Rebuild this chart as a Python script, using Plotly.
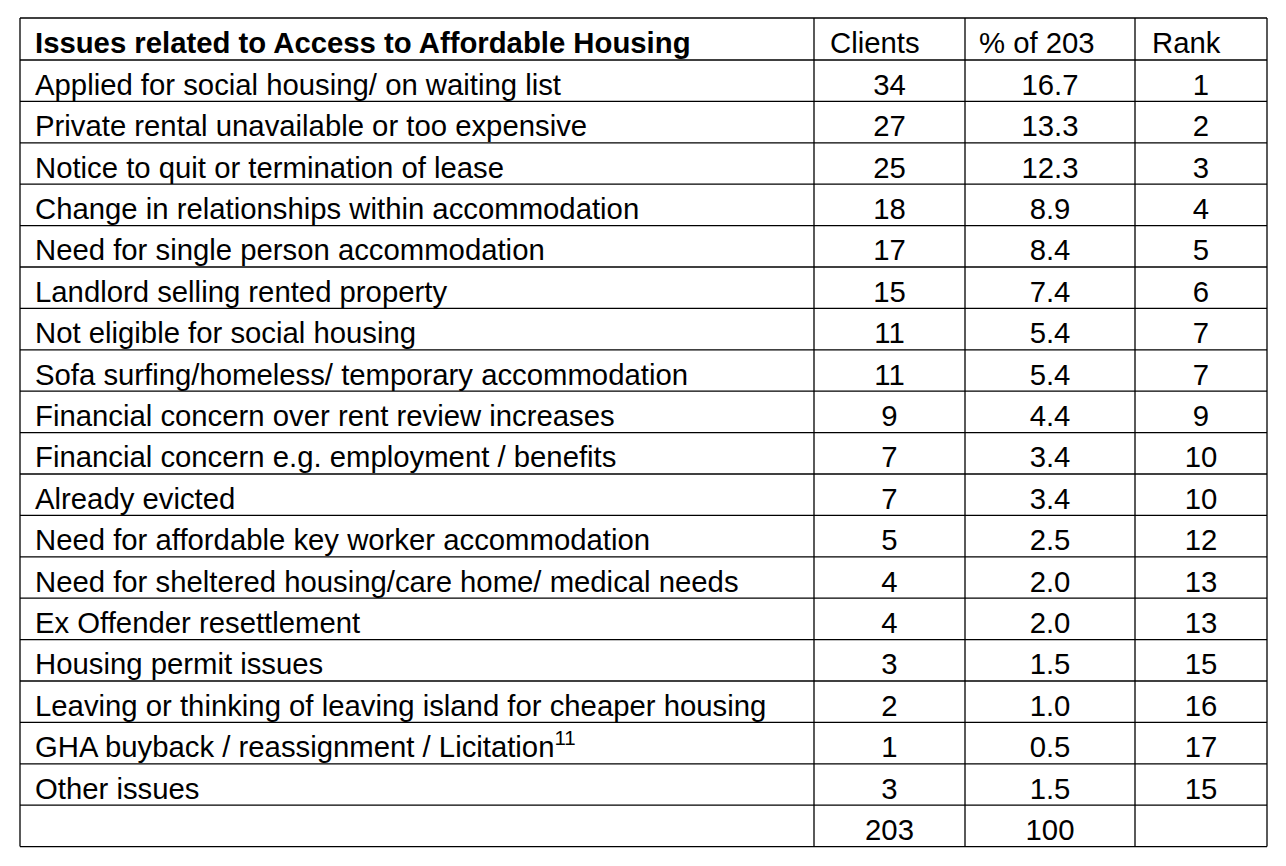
import plotly.graph_objects as go

# Table contents
issues = [
    "Applied for social housing/ on waiting list",
    "Private rental unavailable or too expensive",
    "Notice to quit or termination of lease",
    "Change in relationships within accommodation",
    "Need for single person accommodation",
    "Landlord selling rented property",
    "Not eligible for social housing",
    "Sofa surfing/homeless/ temporary accommodation",
    "Financial concern over rent review increases",
    "Financial concern e.g. employment / benefits",
    "Already evicted",
    "Need for affordable key worker accommodation",
    "Need for sheltered housing/care home/ medical needs",
    "Ex Offender resettlement",
    "Housing permit issues",
    "Leaving or thinking of leaving island for cheaper housing",
    "GHA buyback / reassignment / Licitation<sup>11</sup>",
    "Other issues",
    "",
]
clients = ["34", "27", "25", "18", "17", "15", "11", "11", "9", "7", "7",
           "5", "4", "4", "3", "2", "1", "3", "203"]
pct = ["16.7", "13.3", "12.3", "8.9", "8.4", "7.4", "5.4", "5.4", "4.4", "3.4",
       "3.4", "2.5", "2.0", "2.0", "1.5", "1.0", "0.5", "1.5", "100"]
rank = ["1", "2", "3", "4", "5", "6", "7", "7", "9", "10", "10",
        "12", "13", "13", "15", "16", "17", "15", ""]
headers = ["<b>Issues related to Access to Affordable Housing</b>", "Clients", "% of 203", "Rank"]

# layout (pixel space of the page)
W, H = 1286, 866
BODY = 8  # default page body margin shifts the plot
FONT = "Liberation Sans, Arial, sans-serif"
FS = 29.3
col_edges = [20, 814, 965, 1135, 1267]
head_pad = [15, 16, 14, 17]
TOP, HEAD_H, ROW_H = 18, 42, 41.4
BASE_GAP = 14  # distance from cell bottom to text anchor

n = len(issues)
row_edges = [TOP] + [TOP + HEAD_H + i * ROW_H for i in range(n + 1)]
row_y = [row_edges[i + 2] - BASE_GAP for i in range(n)]
head_y = row_edges[1] - BASE_GAP

fig = go.Figure()

# header
for j, h in enumerate(headers):
    fig.add_trace(go.Scatter(
        x=[col_edges[j] + head_pad[j]], y=[head_y], text=[h],
        mode="text", textposition="middle right",
        textfont=dict(family=FONT, size=FS, color="black"),
        hoverinfo="skip", showlegend=False,
    ))

# first column (left aligned)
fig.add_trace(go.Scatter(
    x=[col_edges[0] + 15] * n, y=row_y, text=issues,
    mode="text", textposition="middle right",
    textfont=dict(family=FONT, size=FS, color="black"),
    hoverinfo="skip", showlegend=False,
))

# numeric columns (centred)
for j, col in enumerate([clients, pct, rank], start=1):
    fig.add_trace(go.Scatter(
        x=[(col_edges[j] + col_edges[j + 1]) / 2] * n, y=row_y, text=col,
        mode="text", textposition="middle center",
        textfont=dict(family=FONT, size=FS, color="black"),
        hoverinfo="skip", showlegend=False,
    ))

# grid lines
line = dict(color="black", width=1.3)
for y in row_edges:
    fig.add_shape(type="line", x0=col_edges[0], x1=col_edges[-1], y0=y, y1=y, line=line)
for x in col_edges:
    fig.add_shape(type="line", x0=x, x1=x, y0=row_edges[0], y1=row_edges[-1], line=line)

fig.update_xaxes(range=[BODY, W + BODY], visible=False, fixedrange=True)
fig.update_yaxes(range=[H + BODY, BODY], visible=False, fixedrange=True)
fig.update_layout(
    width=W, height=H,
    margin=dict(l=0, r=0, t=0, b=0),
    paper_bgcolor="white", plot_bgcolor="white",
)

fig.write_html("out.html")
